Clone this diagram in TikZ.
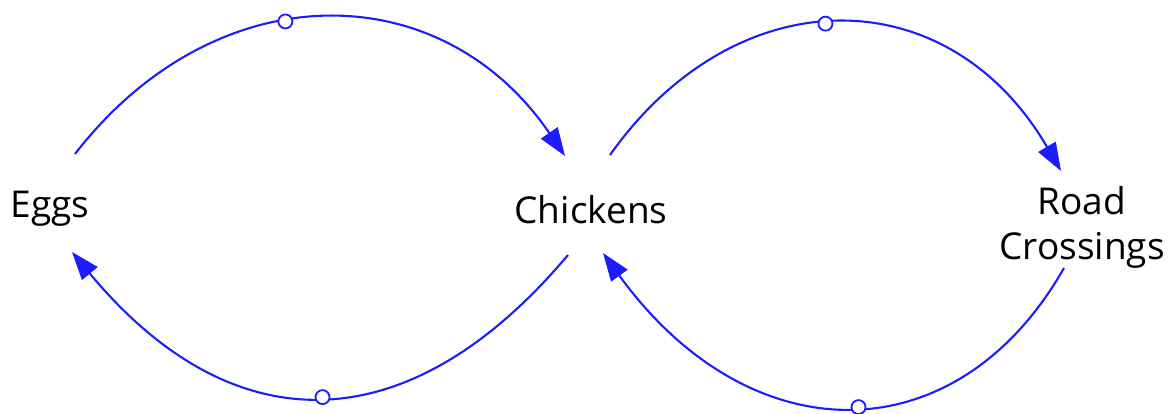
\documentclass[tikz,border=0pt]{standalone}
\usepackage{fontspec}
\setmainfont{Open Sans}
\usetikzlibrary{arrows.meta}
\definecolor{linkblue}{RGB}{28,28,255}
\tikzset{
  varlabel/.style={font=\fontsize{37}{44.3}\selectfont, text=black, inner sep=0pt, align=center},
  link/.style={draw=linkblue, line width=2.1pt, -{Triangle[length=28pt,width=20pt]}},
  polarity/.style={circle, draw=linkblue, fill=white, line width=1.8pt, minimum size=14pt, inner sep=0pt}
}
\begin{document}
\begin{tikzpicture}[x=1pt,y=-1pt]
\useasboundingbox (0,0) rectangle (1172,414);
\node[varlabel, anchor=base] (eggs) at (50,218) {Eggs};
\node[varlabel, anchor=base] (chickens) at (591,223) {Chickens};
\node[varlabel, anchor=base] (road) at (1082,259) {Road\\Crossings};
% connector end points
\coordinate (e1) at (75,154);
\coordinate (c1) at (565,156);
\coordinate (c2) at (568,255);
\coordinate (e2) at (72,252);
\coordinate (c3) at (610,155);
\coordinate (r1) at (1061,171);
\coordinate (r2) at (1064,268);
\coordinate (c4) at (603,253);
% Eggs -> Chickens (top left)
\path[link] (e1) .. controls (215,-27) and (440,-27) .. node[pos=0.425, polarity] (p1) {} (c1);
% Chickens -> Eggs (bottom left)
\path[link] (c2) .. controls (408,445) and (232,445) .. node[pos=0.495, polarity] (p2) {} (e2);
% Chickens -> Road Crossings (top right)
\path[link] (c3) .. controls (736,-23) and (948,-23) .. node[pos=0.47, polarity] (p3) {} (r1);
% Road Crossings -> Chickens (bottom right)
\path[link] (r2) .. controls (957,456) and (750,456) .. node[pos=0.48, polarity] (p4) {} (c4);
\end{tikzpicture}
\end{document}
